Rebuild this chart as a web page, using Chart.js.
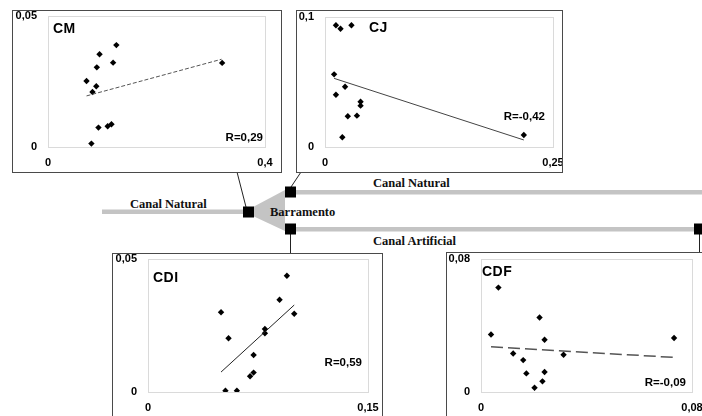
<!DOCTYPE html>
<html>
<head>
<meta charset="utf-8">
<script src="https://cdn.jsdelivr.net/npm/chart.js@4.4.1/dist/chart.umd.min.js"></script>
<style>
  html, body { margin: 0; padding: 0; background: #fff; }
  body { width: 702px; height: 416px; overflow: hidden; position: relative; }
  #esquema { position: absolute; left: 0; top: 0; }
  #esquema text { font-family: "Liberation Serif", "Times New Roman", serif; font-weight: bold; font-size: 12.5px; fill: #111; }
  .painel { position: absolute; box-sizing: border-box; border: 1px solid #4a4a4a; background: #fff; }
  .painel canvas { position: absolute; left: 0; top: 0; }
</style>
</head>
<body>

<!-- esquema dos canais -->
<svg id="esquema" width="702" height="416">
  <rect x="102" y="209.5" width="146" height="4.5" fill="#c4c4c4"/>
  <polygon points="253,207 285,190 285,231 253,216" fill="#c4c4c4"/>
  <rect x="290" y="190" width="412" height="4.5" fill="#c4c4c4"/>
  <rect x="290" y="227" width="412" height="4.5" fill="#c4c4c4"/>
  <line x1="237" y1="172" x2="246" y2="207" stroke="#222" stroke-width="1"/>
  <line x1="301" y1="172" x2="291" y2="187" stroke="#222" stroke-width="1"/>
  <line x1="290.5" y1="234" x2="290.5" y2="254" stroke="#222" stroke-width="1"/>
  <line x1="699.5" y1="234" x2="699.5" y2="253" stroke="#222" stroke-width="1"/>
  <rect x="243" y="206.5" width="11" height="11" fill="#000"/>
  <rect x="285" y="186.5" width="11" height="11" fill="#000"/>
  <rect x="285" y="223.5" width="11" height="11" fill="#000"/>
  <rect x="694" y="223.5" width="11" height="11" fill="#000"/>
  <text x="130" y="207.5">Canal Natural</text>
  <text x="270" y="215.5">Barramento</text>
  <text x="373" y="187">Canal Natural</text>
  <text x="373" y="245">Canal Artificial</text>
</svg>

<div class="painel" id="pCM"><canvas id="cCM"></canvas></div>
<div class="painel" id="pCJ"><canvas id="cCJ"></canvas></div>
<div class="painel" id="pCDI"><canvas id="cCDI"></canvas></div>
<div class="painel" id="pCDF"><canvas id="cCDF"></canvas></div>

<script>
// ---- dados ----
// CM
const cmX = [0.126, 0.095, 0.090, 0.120, 0.071, 0.089, 0.082, 0.093, 0.110, 0.117, 0.080, 0.321];
const cmY = [0.0389, 0.0354, 0.0304, 0.0322, 0.0252, 0.0232, 0.0210, 0.0074, 0.0079, 0.0087, 0.0013, 0.0321];
const cmRetaX = [0.071, 0.320];
const cmRetaY = [0.0195, 0.0335];
const cmEixoX = [0, 0.4], cmRotX = ['0', '0,4'];
const cmEixoY = [0, 0.05], cmRotY = ['0', '0,05'];

// CJ
const cjX = [0.012, 0.017, 0.029, 0.010, 0.022, 0.012, 0.039, 0.039, 0.025, 0.035, 0.019, 0.218];
const cjY = [0.0936, 0.0910, 0.0936, 0.0559, 0.0464, 0.0402, 0.0348, 0.0318, 0.0236, 0.0241, 0.0075, 0.0092];
const cjRetaX = [0.010, 0.218];
const cjRetaY = [0.0528, 0.0054];
const cjEixoX = [0, 0.25], cjRotX = ['0', '0,25'];
const cjEixoY = [0, 0.1], cjRotY = ['0', '0,1'];

// CDI
const cdiX = [0.0947, 0.0897, 0.0997, 0.0498, 0.0797, 0.0797, 0.0549, 0.0720, 0.0720, 0.0696, 0.0528, 0.0606];
const cdiY = [0.0437, 0.0347, 0.0294, 0.0300, 0.0237, 0.0221, 0.0202, 0.0139, 0.0073, 0.0059, 0.0005, 0.0005];
const cdiRetaX = [0.0498, 0.0997];
const cdiRetaY = [0.0075, 0.0327];
const cdiEixoX = [0, 0.15], cdiRotX = ['0', '0,15'];
const cdiEixoY = [0, 0.05], cdiRotY = ['0', '0,05'];

// CDF
const cdfX = [0.0066, 0.0222, 0.0038, 0.0241, 0.0732, 0.0122, 0.0313, 0.0160, 0.0172, 0.0241, 0.0233, 0.0203];
const cdfY = [0.0628, 0.0448, 0.0346, 0.0314, 0.0325, 0.0232, 0.0224, 0.0192, 0.0112, 0.0120, 0.0064, 0.0026];
const cdfRetaX = [0.0038, 0.0732];
const cdfRetaY = [0.0272, 0.0208];
const cdfEixoX = [0, 0.08], cdfRotX = ['0', '0,08'];
const cdfEixoY = [0, 0.08], cdfRotY = ['0', '0,08'];

// ---- plugin: moldura da area, rotulos, titulo e R ----
const painelPlugin = {
  id: 'painel',
  beforeDatasetsDraw(chart) {
    const a = chart.chartArea, c = chart.ctx;
    c.save();
    c.strokeStyle = '#dadada';
    c.lineWidth = 1;
    c.strokeRect(Math.round(a.left) + 0.5, Math.round(a.top) + 0.5,
                 Math.round(a.right - a.left), Math.round(a.bottom - a.top));
    c.restore();
  },
  afterDraw(chart, args, o) {
    const c = chart.ctx, sx = chart.scales.x, sy = chart.scales.y, a = chart.chartArea;
    c.save();
    c.fillStyle = '#000';
    c.font = 'bold 11px "Liberation Sans", Arial, sans-serif';
    c.textBaseline = 'middle';
    c.textAlign = 'right';
    o.eixoY.forEach((v, i) => c.fillText(o.rotY[i], a.left - 11, sy.getPixelForValue(v)));
    c.textAlign = 'center';
    o.eixoX.forEach((v, i) => c.fillText(o.rotX[i], sx.getPixelForValue(v), a.bottom + 16));
    c.textAlign = 'left';
    c.font = 'bold 14px "Liberation Sans", Arial, sans-serif';
    c.letterSpacing = '0.5px';
    c.fillText(o.titulo, o.tPos[0] - o.origem[0], o.tPos[1] - o.origem[1]);
    c.letterSpacing = '0px';
    c.font = 'bold 11.5px "Liberation Sans", Arial, sans-serif';
    c.textAlign = 'right';
    c.fillText(o.r, o.rPos[0] - o.origem[0], o.rPos[1] - o.origem[1]);
    c.restore();
  }
};

function pares(xs, ys) { return xs.map((x, i) => ({ x: x, y: ys[i] })); }

function painel(id, caixa, area, xs, ys, retaX, retaY, eixoX, rotX, eixoY, rotY, titulo, tPos, r, rPos, reta) {
  const div = document.getElementById('p' + id);
  div.style.left = caixa[0] + 'px';
  div.style.top = caixa[1] + 'px';
  div.style.width = caixa[2] + 'px';
  div.style.height = caixa[3] + 'px';
  const cv = document.getElementById('c' + id);
  const w = caixa[2] - 2, h = caixa[3] - 2;
  cv.width = w; cv.height = h;
  cv.style.width = w + 'px'; cv.style.height = h + 'px';
  const ox = caixa[0] + 1, oy = caixa[1] + 1;

  new Chart(cv, {
    type: 'scatter',
    data: {
      datasets: [
        {
          data: pares(retaX, retaY),
          showLine: true,
          pointRadius: 0,
          borderColor: reta.cor,
          borderWidth: reta.largura,
          borderDash: reta.traco
        },
        {
          data: pares(xs, ys),
          pointStyle: 'rectRot',
          pointRadius: 3.2,
          backgroundColor: '#000',
          borderColor: '#000',
          borderWidth: 0
        }
      ]
    },
    options: {
      responsive: false,
      devicePixelRatio: 1,
      animation: false,
      events: [],
      layout: {
        padding: {
          left: area[0] - ox,
          top: area[1] - oy,
          right: ox + w - area[2],
          bottom: oy + h - area[3]
        }
      },
      scales: {
        x: { type: 'linear', min: eixoX[0], max: eixoX[1], display: false },
        y: { type: 'linear', min: eixoY[0], max: eixoY[1], display: false }
      },
      plugins: {
        legend: { display: false },
        tooltip: { enabled: false },
        painel: {
          eixoX: eixoX, rotX: rotX, eixoY: eixoY, rotY: rotY,
          titulo: titulo, tPos: tPos, r: r, rPos: rPos, origem: [ox, oy]
        }
      }
    },
    plugins: [painelPlugin]
  });
}

painel('CM', [12, 10, 270, 163], [48, 16, 265, 147], cmX, cmY, cmRetaX, cmRetaY,
  cmEixoX, cmRotX, cmEixoY, cmRotY, 'CM', [53, 29], 'R=0,29', [263, 138],
  { cor: '#555', largura: 1, traco: [4, 2] });

painel('CJ', [296, 10, 267, 163], [325, 17, 553, 147], cjX, cjY, cjRetaX, cjRetaY,
  cjEixoX, cjRotX, cjEixoY, cjRotY, 'CJ', [369, 28], 'R=-0,42', [545, 117],
  { cor: '#444', largura: 1, traco: [] });

painel('CDI', [112, 253, 271, 180], [148, 259, 368, 392], cdiX, cdiY, cdiRetaX, cdiRetaY,
  cdiEixoX, cdiRotX, cdiEixoY, cdiRotY, 'CDI', [153, 278], 'R=0,59', [362, 363],
  { cor: '#222', largura: 1, traco: [] });

painel('CDF', [446, 252, 280, 180], [481, 259, 692, 392], cdfX, cdfY, cdfRetaX, cdfRetaY,
  cdfEixoX, cdfRotX, cdfEixoY, cdfRotY, 'CDF', [482, 272], 'R=-0,09', [686, 383],
  { cor: '#555', largura: 1.5, traco: [12, 5] });
</script>
</body>
</html>
